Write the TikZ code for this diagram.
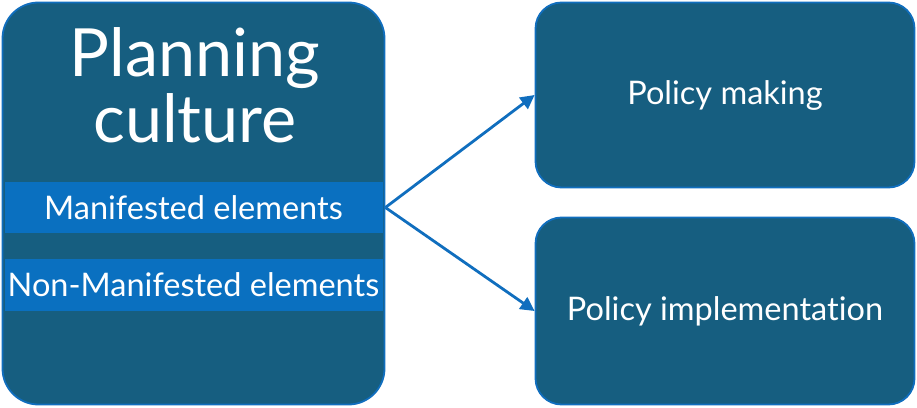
\documentclass[tikz,border=0pt]{standalone}
\usepackage{fontspec}
\setmainfont[Ligatures=NoCommon]{Lato}
\usetikzlibrary{arrows.meta}
\definecolor{boxfill}{RGB}{22,94,128}
\definecolor{bandfill}{RGB}{10,112,192}
\definecolor{edge}{RGB}{16,110,190}
\tikzset{
	box/.style={draw=edge, line width=1.8pt, fill=boxfill, rounded corners=26pt, text=white, font=\fontsize{32.5}{36}\selectfont},
	band/.style={fill=bandfill, minimum width=378pt, minimum height=51pt, inner sep=0pt, text=white, font=\fontsize{32.5}{36}\selectfont},
	arr/.style={draw=edge, line width=2.8pt, -{Triangle[length=14pt,width=14pt]}}
}
\begin{document}
\begin{tikzpicture}[x=1pt, y=1pt, line join=round]
	\useasboundingbox (0,0) rectangle (917,407);
	% left block with the two bands
	\node[box, rounded corners=36pt, minimum width=382pt, minimum height=402pt] (pc) at (193.5,203.5) {};
	\node[text=white, align=center, font=\fontsize{66.5}{66}\selectfont] (title) at (195,322) {Planning\\culture};
	\node[band] (man) at (193.5,199.5) {Manifested elements};
	\node[band] (nman) at (193.5,122) {Non-Manifested elements};
	% right blocks
	\node[box, minimum width=379pt, minimum height=185pt] (pm) at (725,312) {Policy making};
	\node[box, minimum width=379pt, minimum height=187pt] (pi) at (725,96) {Policy implementation};
	\draw[arr] (pc.east |- man.east) -- (pm.west);
	\draw[arr] (pc.east |- man.east) -- (pi.west);
\end{tikzpicture}
\end{document}
